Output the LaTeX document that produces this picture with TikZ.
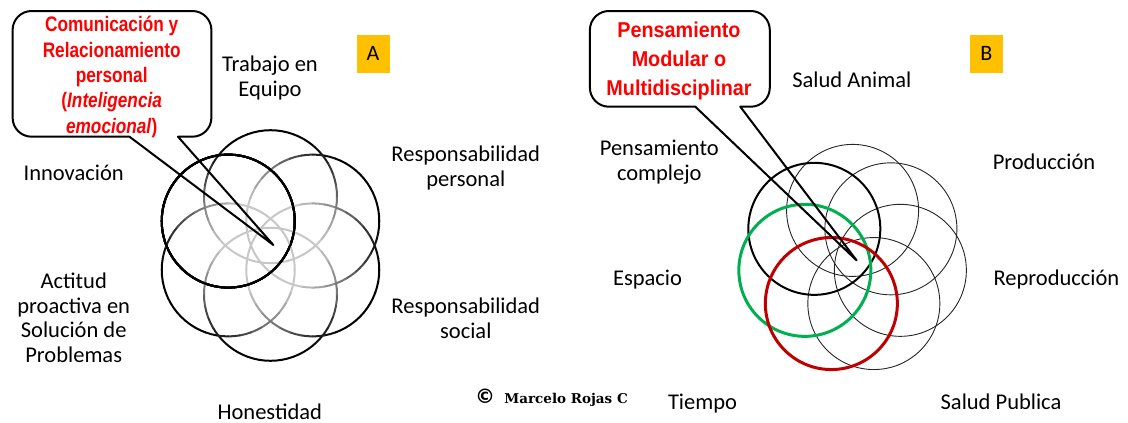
\documentclass[tikz,border=0pt]{standalone}
\usepackage{fontspec}
\setmainfont{Carlito}
\newfontfamily\narrowfont[FakeStretch=0.82]{Liberation Sans}
\newfontfamily\halfnarrowfont[FakeStretch=0.92]{Liberation Sans}
\newfontfamily\slabfont{DejaVu Serif}
\newfontfamily\symfont{DejaVu Sans}
\usetikzlibrary{positioning}

\definecolor{callred}{HTML}{FF0000}
\definecolor{tagyellow}{HTML}{FFC000}
\definecolor{ringgreen}{HTML}{00B050}
\definecolor{ringred}{HTML}{C00000}

% ring that fades from black (outside) to light grey (towards the middle)
\newcommand\fadering[2]{%
  \foreach \t in {0,10,...,350}{
    \pgfmathsetmacro\k{max(22,min(100,58+52*cos(\t+5-#2)))}
    \draw[line width=2pt, line cap=round, black!\k] (#1) ++(#2:48.8) ++(\t:66.5) arc[start angle=\t, end angle=\t+10, radius=66.5];
  }}

\begin{document}
\begin{tikzpicture}[x=1pt,y=-1pt,
    topic/.style={align=center, inner sep=0pt, anchor=base, font=\fontsize{22.5}{24.8}\selectfont},
    tag/.style={fill=tagyellow, minimum width=33pt, minimum height=38pt, inner sep=0pt, font=\fontsize{22}{24}\selectfont},
    callout/.style={draw, line width=2pt, line join=round},
    calltext/.style={align=center, inner sep=0pt, anchor=base, text=callred}]
  \useasboundingbox (0,0) rectangle (1128,423);

  % panel A
  \coordinate (fa) at (270.5,245.5);
  \foreach \a in {270,330,30,90,150}
    \fadering{fa}{\a}
  \draw[line width=2pt] (fa) ++(210:48.8) circle[radius=66.5];

  \coordinate (tipA) at (273.4,245);
  \draw[callout] (31.6,136.7) -- (129.5,136.7) -- (tipA) -- (178,136.7) -- (192.4,136.7)
    arc[start angle=90, end angle=0, radius=19] -- (211.4,30)
    arc[start angle=0, end angle=-90, radius=19] -- (31.6,11)
    arc[start angle=-90, end angle=-180, radius=19] -- (12.6,117.7)
    arc[start angle=180, end angle=90, radius=19] -- cycle;
  \node[calltext, font=\narrowfont\bfseries\fontsize{21}{25.4}\selectfont] (ca) at (111.7,133.3)
    {Comunicación y\\Relacionamiento\\personal\\(\textit{Inteligencia}\\\textit{emocional})};

  \node[tag] (A) at (373,53.5) {A};
  \node[topic] (te) at (270,96.5) {Trabajo en\\Equipo};
  \node[topic] (in) at (73.7,180) {Innovación};
  \node[topic] (rp) at (465.8,186.1) {Responsabilidad\\personal};
  \node[topic] (ap) at (73.7,362.7) {Actitud\\proactiva en\\Solución de\\Problemas};
  \node[topic] (rs) at (465.8,338.1) {Responsabilidad\\social};
  \node[topic] (ho) at (269.8,419.5) {Honestidad};

  % author
  \node[inner sep=0pt, font=\symfont\bfseries\fontsize{20}{20}\selectfont] (cp) at (485,396.7) {©};
  \node[inner sep=0pt, font=\slabfont\bfseries\fontsize{13.5}{13.5}\selectfont, right=9pt of cp, yshift=-3pt] (mr) {Marcelo Rojas C};

  % panel B
  \coordinate (fb) at (852.6,259.4);
  \foreach \a in {270,321.4,12.9,64.3}
    \draw[line width=0.9pt, black!85] (fb) ++(\a:49) circle[radius=66];
  \draw[line width=2pt] (fb) ++(218.6:49) circle[radius=66];
  \draw[line width=3pt, ringgreen] (fb) ++(167.1:49) circle[radius=66];
  \draw[line width=3pt, ringred] (fb) ++(115.7:49) circle[radius=66];

  \coordinate (tipB) at (856.7,260.5);
  \draw[callout] (608.9,106.7) -- (695.3,106.7) -- (tipB) -- (740.3,106.7) -- (750.8,106.7)
    arc[start angle=90, end angle=0, radius=19] -- (769.8,30)
    arc[start angle=0, end angle=-90, radius=19] -- (608.9,11)
    arc[start angle=-90, end angle=-180, radius=19] -- (589.9,87.7)
    arc[start angle=180, end angle=90, radius=19] -- cycle;
  \node[calltext, font=\halfnarrowfont\bfseries\fontsize{21.5}{28.7}\selectfont] (cb) at (679,95.1)
    {Pensamiento\\Modular o\\Multidisciplinar};

  \node[tag] (B) at (986.3,53.5) {B};
  \node[topic] (sa) at (851.8,87.3) {Salud Animal};
  \node[topic] (pc) at (659.3,180.5) {Pensamiento\\complejo};
  \node[topic] (pr) at (1044,169.3) {Producción};
  \node[topic] (re) at (1056.4,285.6) {Reproducción};
  \node[topic] (es) at (647.5,285.6) {Espacio};
  \node[topic] (ti) at (702.5,409) {Tiempo};
  \node[topic] (sp) at (1001,409) {Salud Publica};
\end{tikzpicture}
\end{document}
